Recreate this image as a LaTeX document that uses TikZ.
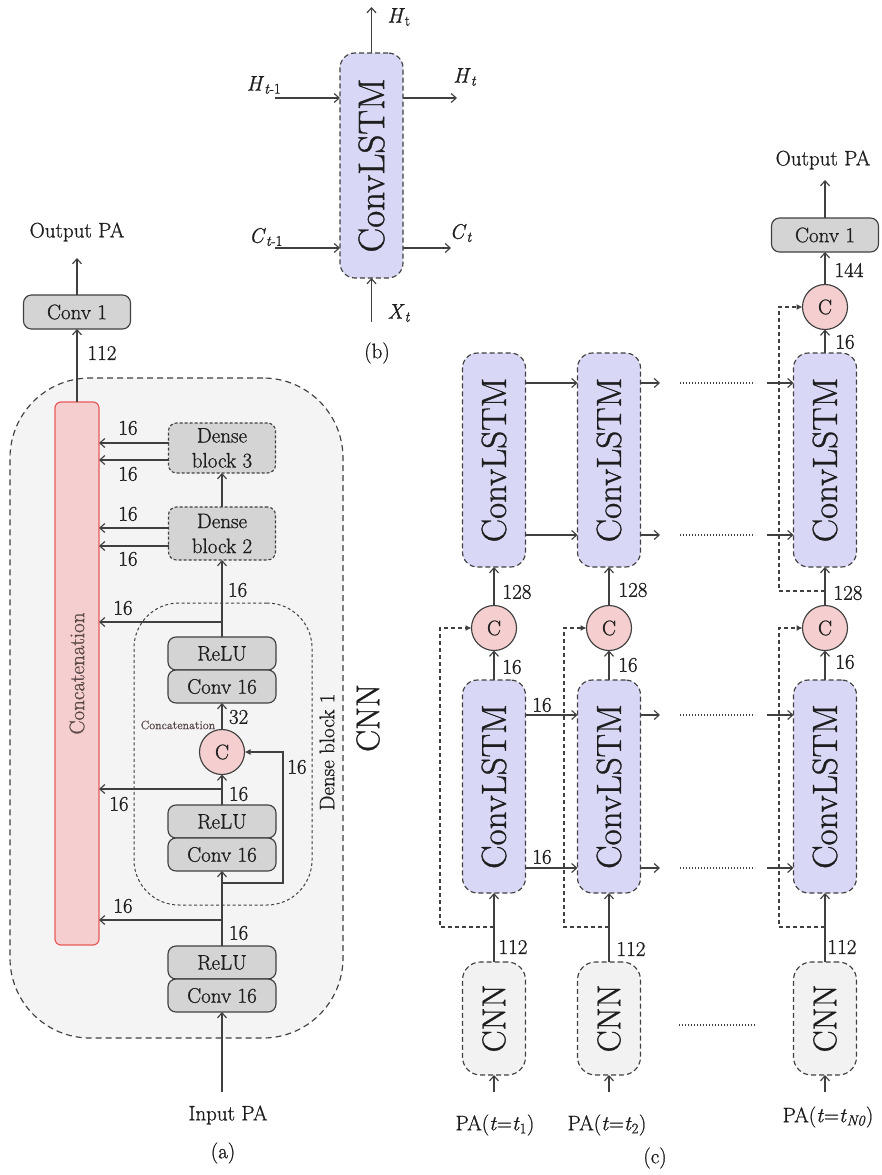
\RequirePackage{fix-cm}
\documentclass[tikz,border=0pt]{standalone}
\usepackage{fontspec}
\setmainfont{Latin Modern Roman}[RawFeature={embolden=0.9}]
\usetikzlibrary{arrows.meta}
\definecolor{lc}{HTML}{404040}
\definecolor{boxgray}{HTML}{D4D4D4}
\definecolor{bgray}{HTML}{F4F4F4}
\definecolor{cnnfill}{HTML}{F2F2F2}
\definecolor{pinkf}{HTML}{F5CFCF}
\definecolor{redb}{HTML}{E85A5A}
\definecolor{lav}{HTML}{D8D8F6}
\definecolor{txt}{HTML}{1E1E1E}
\definecolor{bartxt}{HTML}{5A4848}
\tikzset{
  fnt/.style={font=\fontsize{21}{25}\selectfont},
  every node/.style={inner sep=0pt, outer sep=0pt, text=txt, fnt},
  ln/.style={draw=lc, line width=1.15pt},
  arr/.style={ln, -{Straight Barb[length=5pt,width=9pt]}},
  farr/.style={ln, dash pattern=on 4pt off 3pt, -{Latex[length=6pt,width=6pt]}},
  sarr/.style={ln, -{Latex[length=6pt,width=6pt]}},
  dots/.style={draw=lc, line width=1.3pt, dash pattern=on 1.3pt off 1.7pt},
  gbox/.style={draw=lc, fill=boxgray, line width=1.15pt, rounded corners=8pt, minimum width=108pt},
  dgbox/.style={gbox, dash pattern=on 3pt off 2pt, minimum width=107pt, align=center},
  bigbox/.style={draw=lc, fill=bgray, line width=1.15pt, dash pattern=on 6pt off 4pt, rounded corners=80pt, minimum width=333pt, minimum height=660pt},
  dblock/.style={draw=lc, line width=1pt, dash pattern=on 3pt off 2.5pt, rounded corners=45pt, minimum width=178pt, minimum height=302pt},
  barbox/.style={draw=redb, fill=pinkf, line width=1.2pt, rounded corners=6pt, minimum width=44pt, minimum height=543pt},
  circ/.style={circle, draw=lc, fill=pinkf, line width=1.15pt, minimum size=45pt},
  lstm/.style={draw=lc, fill=lav, line width=1.15pt, dash pattern=on 5pt off 3pt, rounded corners=15pt, minimum width=63pt},
  cnnbox/.style={draw=lc, fill=cnnfill, line width=1.15pt, dash pattern=on 5pt off 3pt, rounded corners=18pt, minimum width=63pt, minimum height=113pt},
  bigtxt/.style={font=\fontsize{35}{38}\selectfont},
  cnntxt/.style={font=\fontsize{33}{36}\selectfont}
}
\begin{document}
\begin{tikzpicture}[x=1pt,y=-1pt]
\useasboundingbox[fill=white] (0,0) rectangle (882,1175);

% ================= (a) =================
\node[bigbox] (cnnA) at (176.5,708) {};
\node[dblock] (db1) at (223,754) {};
\node[barbox] (bar) at (77,673.5) {};
\node[rotate=90, text=bartxt] (bartext) at (bar) {Concatenation};
\node (outA) at (77,232) {Output PA};
\coordinate (outAt) at (77,258);
\node[gbox, minimum width=107pt, minimum height=34pt] (conv1a) at (77,312) {Conv 1};
\node[dgbox, minimum height=50pt] (db3) at (222,448) {Dense\\block 3};
\node[dgbox, minimum height=53pt] (db2) at (222,533.5) {Dense\\block 2};
\node[gbox, minimum height=33pt] (relu1) at (222,653.5) {ReLU};
\node[gbox, minimum height=33pt] (conva1) at (222,686.5) {Conv 16};
\node[circ] (cA) at (222,752) {C};
\node[gbox, minimum height=33pt] (relu2) at (222,821.5) {ReLU};
\node[gbox, minimum height=33pt] (conva2) at (222,854.5) {Conv 16};
\node[gbox, minimum height=33pt] (relu3) at (222,962.5) {ReLU};
\node[gbox, minimum height=33pt] (conva3) at (222,995.5) {Conv 16};
\node (inA) at (228,1115) {Input PA};
\coordinate (inAt) at (222,1092);
\node (labA) at (223,1153) {(a)};
\node[rotate=90] (db1lab) at (327,752) {Dense block 1};
\node[rotate=90, cnntxt] (cnnAlab) at (368,718) {CNN};
\node[font=\fontsize{12}{14}\selectfont, text=bartxt] (smallcat) at (178,725) {Concatenation};

\draw[arr] (conv1a.north) -- (outAt);
\draw[arr] (bar.north -| conv1a) -- (conv1a.south);
\node (l112a) at (102,353) {112};
\draw[arr] (db3.west |- 0,443) -- (bar.east |- 0,443);
\draw[arr] (db3.west |- 0,460) -- (bar.east |- 0,460);
\node (la1) at (128,428) {16};
\node (la2) at (128,474) {16};
\draw[arr] (db2.west |- 0,528) -- (bar.east |- 0,528);
\draw[arr] (db2.west |- 0,546) -- (bar.east |- 0,546);
\node (la3) at (128,514) {16};
\node (la4) at (128,559) {16};
\draw[arr] (db2.north) -- (db3.south);
\draw[arr] (relu1.north) -- (db2.south);
\node[anchor=west] (la5) at (228,590) {16};
\coordinate (j1) at (222,622);
\draw[arr] (j1) -- (bar.east |- j1);
\node (la6) at (123,608) {16};
\draw[arr] (cA.north) -- (conva1.south);
\node[anchor=west] (la7) at (229,717) {32};
\draw[arr] (relu2.north) -- (cA.south);
\node[anchor=west] (la8) at (229,794) {16};
\coordinate (j2) at (222,789);
\draw[arr] (j2) -- (bar.east |- j2);
\node (la9) at (119,804) {16};
\draw[arr] (relu3.north) -- (conva2.south);
\coordinate (j3) at (222,883);
\coordinate (lp1) at (283,883);
\draw[sarr] (j3) -- (lp1) |- (cA.east);
\node (la10) at (297,767) {16};
\coordinate (j4) at (222,920);
\draw[arr] (j4) -- (bar.east |- j4);
\node (la11) at (123,906) {16};
\node[anchor=west] (la12) at (229,933) {16};
\draw[arr] (inAt) -- (conva3.south);

% ================= (b) =================
\node[lstm, minimum height=225pt] (lstmB) at (371.5,165.5) {};
\node[rotate=90, font=\fontsize{37}{40}\selectfont] (lstmBt) at (lstmB) {ConvLSTM};
\coordinate (hin) at (275,98);
\coordinate (cin) at (275,248);
\coordinate (hout) at (457,98);
\coordinate (cout) at (451,248);
\coordinate (xin) at (371.5,322);
\coordinate (htop) at (371.5,7);
\draw[arr] (hin) -- (lstmB.west |- hin);
\draw[arr] (cin) -- (lstmB.west |- cin);
\draw[arr] (lstmB.east |- hout) -- (hout);
\draw[arr] (lstmB.east |- cout) -- (cout);
\draw[arr] (lstmB.north) -- (htop);
\draw[arr] (xin) -- (lstmB.south);
\node (lHt1) at (399,17) {\textit{H}\textsubscript{t}};
\node (lHm) at (264,85) {\textit{H}\textsubscript{\textit{t}-1}};
\node (lCm) at (266,237) {\textit{C}\textsubscript{\textit{t}-1}};
\node (lHo) at (465,77) {\textit{H}\textsubscript{\textit{t}}};
\node (lCo) at (461,233) {\textit{C}\textsubscript{\textit{t}}};
\node (lX) at (399,313) {\textit{X}\textsubscript{\textit{t}}};
\node (labB) at (377,353) {(b)};

% ================= (c) =================
\node (outC) at (823,160) {Output PA};
\coordinate (outCt) at (825,180);
\node[gbox, minimum width=107pt, minimum height=34pt] (conv1c) at (825,235) {Conv 1};
\node[circ] (cT) at (825,307) {C};
\draw[arr] (conv1c.north) -- (outCt);
\draw[arr] (cT.north) -- (conv1c.south);
\node (l144) at (849,270) {144};
\node (l16t) at (845,342) {16};

\foreach \n/\x in {1/494,2/609,3/825}{
  \node[lstm, minimum height=214pt] (u\n) at (\x,460) {};
  \node[rotate=90, bigtxt] (ut\n) at (u\n) {ConvLSTM};
  \node[circ] (c\n) at (\x,628) {C};
  \node[lstm, minimum height=213pt] (l\n) at (\x,786.5) {};
  \node[rotate=90, bigtxt] (lt\n) at (l\n) {ConvLSTM};
  \node[cnnbox] (n\n) at (\x,1018.5) {};
  \node[rotate=90, cnntxt] (nt\n) at (n\n) {CNN};
  \coordinate (pa\n) at (\x,1092);
  \draw[arr] (c\n.north) -- (u\n.south);
  \draw[arr] (l\n.north) -- (c\n.south);
  \draw[arr] (n\n.north) -- (l\n.south);
  \draw[arr] (pa\n) -- (n\n.south);
}
\draw[arr] (u3.north) -- (cT.south);

% horizontal connections
\foreach \y in {383,535,715,868}{
  \coordinate (sa\y) at (660,\y);
  \coordinate (da\y) at (680,\y);
  \coordinate (db\y) at (755,\y);
  \coordinate (ea\y) at (767,\y);
  \draw[arr] (u1.east |- sa\y) -- (u2.west |- sa\y);
  \draw[arr] (u2.east |- sa\y) -- (sa\y);
  \draw[dots] (da\y) -- (db\y);
  \draw[arr] (ea\y) -- (u3.west |- ea\y);
}
\coordinate (dn1) at (679,1025);
\coordinate (dn2) at (755,1025);
\draw[dots] (dn1) -- (dn2);

% dashed skip connections
\coordinate (k1) at (494,927); \coordinate (k1b) at (440,927);
\coordinate (k2) at (609,927); \coordinate (k2b) at (564,927);
\coordinate (k3) at (825,927); \coordinate (k3b) at (779,927);
\coordinate (k4) at (825,591); \coordinate (k4b) at (779,591);
\draw[farr] (k1) -- (k1b) |- (c1.west);
\draw[farr] (k2) -- (k2b) |- (c2.west);
\draw[farr] (k3) -- (k3b) |- (c3.west);
\draw[farr] (k4) -- (k4b) |- (cT.west);

% labels (c)
\node (l128a) at (517,592) {128};
\node (l128b) at (633,590) {128};
\node (l128c) at (848,593) {128};
\node (l16a) at (512,667) {16};
\node (l16b) at (628,665) {16};
\node (l16c) at (845,662) {16};
\node (l16h1) at (542,705) {16};
\node (l16h2) at (542,857) {16};
\node (l112a) at (513,947) {112};
\node (l112b) at (631,949) {112};
\node (l112c) at (842,947) {112};
\node (pal1) at (495,1125) {PA(\textit{t}=\textit{t}\textsubscript{1})};
\node (pal2) at (607,1125) {PA(\textit{t}=\textit{t}\textsubscript{2})};
\node (pal3) at (828,1117) {PA(\textit{t}=\textit{t}\textsubscript{\textit{N0}})};
\node (labC) at (655,1158) {(c)};
\end{tikzpicture}
\end{document}
